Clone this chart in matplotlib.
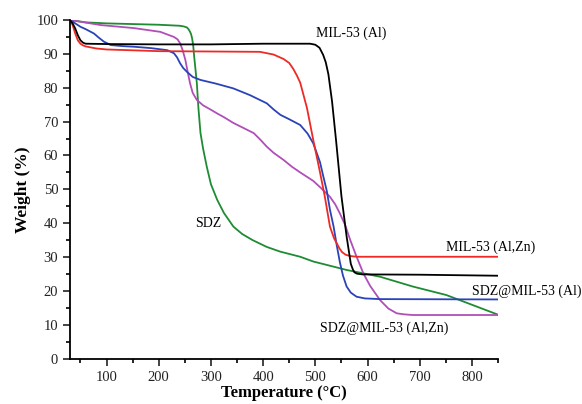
import matplotlib
matplotlib.use("Agg")
import matplotlib.pyplot as plt
from matplotlib.ticker import MultipleLocator

plt.rcParams['font.family'] = ['Liberation Serif', 'DejaVu Serif']

# MIL-53 (Al)
t_al = [30, 35, 40, 45, 50, 55, 60, 100, 200, 300, 400, 480, 490, 500, 508, 515, 520, 525, 532, 540, 550, 560, 568, 572, 575, 580, 590, 700, 850]
w_al = [100, 99, 97.5, 95.5, 94, 93.3, 93.0, 92.9, 92.8, 92.8, 93.0, 93.0, 93.0, 92.7, 91.8, 89.7, 87.5, 84, 76, 64, 48, 36, 28, 26.3, 25.5, 25.1, 24.9, 24.8, 24.5]

# MIL-53 (Al,Zn)
t_alzn = [30, 35, 40, 45, 50, 55, 60, 80, 100, 200, 300, 394, 420, 439, 450, 458, 465, 471, 484, 496, 509, 518, 528, 536, 541, 546, 551, 558, 567, 580, 850]
w_alzn = [100, 98.5, 96, 94, 93, 92.5, 92.2, 91.6, 91.3, 90.8, 90.7, 90.6, 89.8, 88.5, 87.3, 85.5, 83.5, 81.5, 74, 64.6, 55, 48, 39, 35.5, 34.1, 32.6, 31.5, 30.7, 30.3, 30.1, 30.1]

# SDZ
t_sdz = [30, 60, 100, 150, 200, 240, 248, 254, 257, 260, 262, 264, 266, 268, 270, 273, 276, 280, 285, 292, 300, 312, 325, 343, 360, 380, 407, 433, 471, 496, 560, 624, 687, 751, 850]
w_sdz = [100, 99.3, 99, 98.8, 98.6, 98.3, 98.1, 97.8, 97.3, 96.5, 95.8, 94.5, 92.5, 89, 86, 81.3, 74, 66.6, 62, 56.7, 51.5, 46.9, 43, 39, 36.8, 35, 33, 31.6, 30.1, 28.7, 26.2, 24.2, 21.3, 18.8, 13]

# SDZ@MIL-53 (Al)
t_sdz_al = [30, 50, 60, 76, 85, 95, 108, 130, 153, 185, 216, 229, 235, 241, 247, 254, 265, 280, 310, 343, 375, 407, 420, 433, 450, 471, 485, 496, 509, 515, 522, 528, 535, 541, 547, 553, 560, 568, 579, 595, 624, 850]
w_sdz_al = [100, 98, 97.3, 96, 94.8, 93.6, 92.6, 92.3, 92.1, 91.7, 91.1, 90.2, 89, 87.2, 85.8, 84.7, 83.2, 82.3, 81.2, 79.8, 77.8, 75.4, 73.6, 72, 70.7, 69, 66.5, 63.6, 58, 54, 49.5, 44, 39, 33.5, 28.5, 24.5, 21.3, 19.5, 18.3, 17.8, 17.6, 17.5]

# SDZ@MIL-53 (Al,Zn)
t_sdz_alzn = [30, 89, 153, 203, 229, 236, 241, 246, 251, 255, 260, 265, 273, 285, 300, 312, 325, 343, 360, 382, 395, 407, 420, 439, 455, 471, 496, 510, 528, 538, 547, 557, 567, 578, 592, 605, 624, 640, 656, 670, 687, 850]
w_sdz_alzn = [100, 98.5, 97.6, 96.5, 95, 94.3, 93.1, 91, 88.2, 85, 81.3, 78.5, 76.4, 74.8, 73.5, 72.4, 71.3, 69.6, 68.3, 66.6, 64.6, 62.6, 60.8, 58.7, 56.7, 55, 52.5, 50.5, 47.8, 45.6, 42.9, 39.5, 35, 30.5, 25.2, 21.5, 17.3, 14.8, 13.4, 13.1, 12.9, 12.9]

fig = plt.figure(figsize=(5.82, 4.04), dpi=100)
ax = fig.add_axes([0.1203, 0.1121, 0.7354, 0.8384])

lw = 1.3
ax.plot(t_sdz, w_sdz, color="#1e8c32", lw=lw)
ax.plot(t_sdz_alzn, w_sdz_alzn, color="#b04fb8", lw=lw)
ax.plot(t_sdz_al, w_sdz_al, color="#2b43b8", lw=lw)
ax.plot(t_alzn, w_alzn, color="#ee2a24", lw=lw)
ax.plot(t_al, w_al, color="black", lw=lw)

ax.set_xlim(30, 850)
ax.set_ylim(0, 100)
ax.xaxis.set_major_locator(MultipleLocator(100))
ax.xaxis.set_minor_locator(MultipleLocator(50))
ax.yaxis.set_major_locator(MultipleLocator(10))
ax.yaxis.set_minor_locator(MultipleLocator(5))
ax.tick_params(which="major", direction="out", length=5, width=1.2, labelsize=10.5, colors="#222222")
ax.tick_params(which="minor", direction="out", length=3, width=1.2)
ax.spines["top"].set_visible(False)
ax.spines["right"].set_visible(False)
for s in ["left", "bottom"]:
    ax.spines[s].set_linewidth(1.3)

ax.set_xlabel("Temperature (\u00b0C)", fontsize=12, fontweight="bold", labelpad=1)
ax.set_ylabel("Weight (%)", fontsize=12.5, fontweight="bold", labelpad=4)

fs = 10
ax.text(568, 96, "MIL-53 (Al)", fontsize=fs, ha="center", va="center")
ax.text(751, 33, "MIL-53 (Al,Zn)", fontsize=fs, ha="left", va="center")
ax.text(801, 20, "SDZ@MIL-53 (Al)", fontsize=fs, ha="left", va="center", clip_on=False)
ax.text(632, 9, "SDZ@MIL-53 (Al,Zn)", fontsize=fs, ha="center", va="center")
ax.text(295, 40, "SDZ", fontsize=fs, ha="center", va="center")

fig.savefig("out.png", dpi=100)
plt.close("all")
